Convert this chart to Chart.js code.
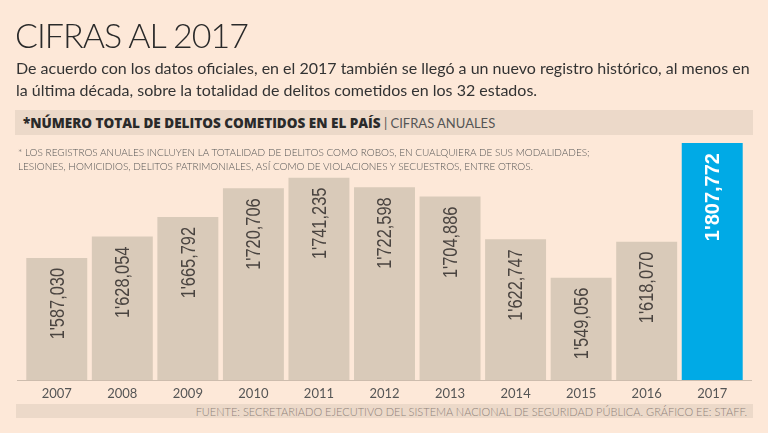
<!DOCTYPE html>
<html>
<head>
<meta charset="utf-8">
<script src="https://cdn.jsdelivr.net/npm/chart.js@4"></script>
<style>
  body { margin: 0; background: #fde8d8; }
  #wrap { position: relative; width: 768px; height: 433px; overflow: hidden; font-family: Lato, sans-serif; color: #333; }
  #wrap canvas { position: absolute; left: 0; top: 0; }
  .abs { position: absolute; white-space: nowrap; }
  #title { left: 15px; top: 18px; font-size: 34px; line-height: 34px; font-weight: 300; letter-spacing: -1px; color: #2a2a2a; }
  #sub { left: 16px; top: 57px; font-size: 16px; line-height: 22px; color: #333; }
  #banner { left: 15px; top: 110px; width: 730px; height: 25px; padding-left: 8px; background: #ecd9c9; line-height: 26px; font-size: 13px; color: #2a2a2a; }
  #banner b { font-family: "Open Sans", sans-serif; font-weight: 800; font-size: 13.5px; }
  #banner span { color: #555; font-size: 13px; }
  #note { left: 18px; top: 145px; font-size: 10px; line-height: 14px; color: #555; font-weight: 300; }
  #src { left: 16px; top: 404px; width: 731px; height: 14px; padding-right: 6px; background: #ecd9c9; text-align: right; font-size: 11px; line-height: 15px; color: #8f827a; font-weight: 300; }
</style>
</head>
<body>
<div id="wrap">
  <canvas id="chart" width="768" height="433"></canvas>
  <div class="abs" id="title">CIFRAS AL 2017</div>
  <div class="abs" id="sub">De acuerdo con los datos oficiales, en el 2017 también se llegó a un nuevo registro histórico, al menos en<br>la última década, sobre la totalidad de delitos cometidos en los 32 estados.</div>
  <div class="abs" id="banner"><b>*NÚMERO TOTAL DE DELITOS COMETIDOS EN EL PAÍS</b> <span>| CIFRAS ANUALES</span></div>
  <div class="abs" id="note">* LOS REGISTROS ANUALES INCLUYEN LA TOTALIDAD DE DELITOS COMO ROBOS, EN CUALQUIERA DE SUS MODALIDADES;<br>LESIONES, HOMICIDIOS, DELITOS PATRIMONIALES, ASÍ COMO DE VIOLACIONES Y SECUESTROS, ENTRE OTROS.</div>
  <div class="abs" id="src">FUENTE: SECRETARIADO EJECUTIVO DEL SISTEMA NACIONAL DE SEGURIDAD PÚBLICA. GRÁFICO EE: STAFF.</div>
</div>
<script>
const years = ['2007', '2008', '2009', '2010', '2011', '2012', '2013', '2014', '2015', '2016', '2017'];
const delitos = [1587030, 1628054, 1665792, 1720706, 1741235, 1722598, 1704886, 1622747, 1549056, 1618070, 1807772];

const beige = '#d9cab9';
const blue = '#00aae6';

// 1587030 -> 1'587,030
const fmt = (v) => {
    const m = Math.floor(v / 1e6);
    const k = Math.floor((v % 1e6) / 1000);
    const u = v % 1000;
    return m + "'" + String(k).padStart(3, '0') + ',' + String(u).padStart(3, '0');
};

const valueLabels = {
    id: 'valueLabels',
    afterDatasetsDraw(chart) {
        const ctx = chart.ctx;
        const meta = chart.getDatasetMeta(0);
        meta.data.forEach((bar, i) => {
            const last = i === delitos.length - 1;
            ctx.save();
            ctx.translate(bar.x + 1, bar.y + 10);
            ctx.rotate(-Math.PI / 2);
            if (last) {
                ctx.font = 'bold 20px "Liberation Sans", sans-serif';
                ctx.fillStyle = '#ffffff';
            } else {
                ctx.scale(0.78, 1);
                ctx.font = '21px "Liberation Sans", sans-serif';
                ctx.fillStyle = '#4a4440';
            }
            ctx.textAlign = 'right';
            ctx.textBaseline = 'middle';
            ctx.fillText(fmt(delitos[i]), 0, 0);
            ctx.restore();
        });
    },
    afterDraw(chart) {
        // base line, a little wider than the bars
        const { ctx, chartArea } = chart;
        ctx.save();
        ctx.strokeStyle = '#cdbcad';
        ctx.lineWidth = 1;
        ctx.beginPath();
        ctx.moveTo(chartArea.left - 7, chartArea.bottom + 0.5);
        ctx.lineTo(chartArea.right + 7, chartArea.bottom + 0.5);
        ctx.stroke();
        ctx.restore();
    }
};

new Chart(document.getElementById('chart'), {
    type: 'bar',
    data: {
        labels: years,
        datasets: [{
            data: delitos,
            backgroundColor: delitos.map((v, i) => i === delitos.length - 1 ? blue : beige),
            borderWidth: 0,
            barPercentage: 0.93,
            categoryPercentage: 1,
        }],
    },
    options: {
        responsive: false,
        animation: false,
        layout: { padding: { left: 24, right: 23, top: 143, bottom: 0 } },
        plugins: { legend: { display: false }, tooltip: { enabled: false } },
        scales: {
            x: {
                grid: { display: false, drawTicks: false },
                border: { display: false },
                ticks: { color: '#555', font: { family: 'Lato', size: 13 }, padding: 6 },
                afterFit(scale) { scale.height = 53; },
            },
            y: {
                display: false,
                min: 1352500,
                max: 1807800,
            },
        },
    },
    plugins: [valueLabels],
});
</script>
</body>
</html>
